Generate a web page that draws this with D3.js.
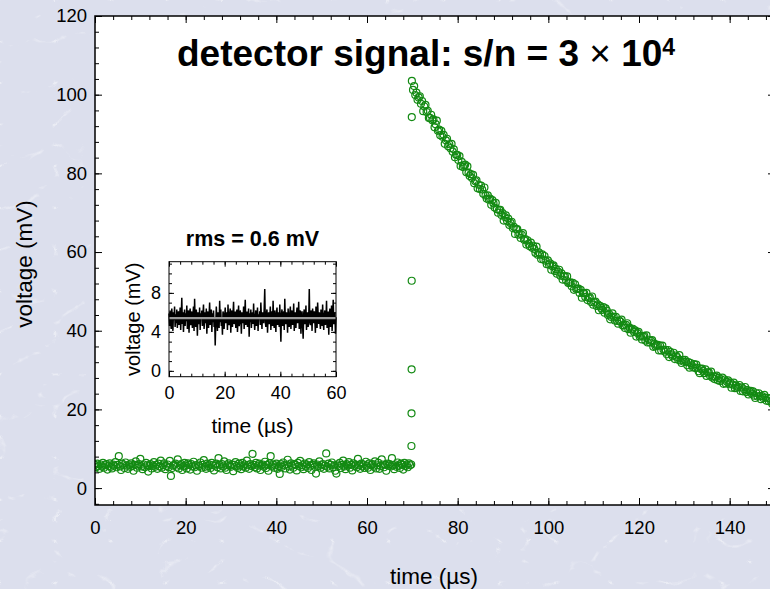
<!DOCTYPE html>
<html>
<head>
<meta charset="utf-8">
<script src="https://cdn.jsdelivr.net/npm/d3@7"></script>
<style>
  html, body { margin: 0; padding: 0; background: #dde0ee; }
  svg { display: block; }
  text { font-family: "Liberation Sans", Arial, sans-serif; fill: #000; }
</style>
</head>
<body>
<svg id="chart" width="770" height="589"></svg>
<script>
// MARK: Data.

// Baseline before the pulse: one sample every 0.25 µs from t = 0.
const baseStart = 0
const baseStep  = 0.25
const baseVolts = [
  5.9, 5.3, 6.2, 5.6, 4.9, 6.0, 5.5, 6.4, 5.2, 5.8, 6.1, 4.7, 5.6, 6.3, 5.4, 5.0, 6.0, 5.7, 6.6, 5.3,
  5.9, 8.1, 5.5, 4.6, 6.2, 5.8, 5.1, 6.5, 5.7, 4.9, 6.0, 5.4, 6.3, 5.6, 4.4, 5.9, 6.8, 5.2, 5.7, 6.1,
  7.4, 5.5, 4.8, 6.0, 5.3, 6.4, 5.8, 4.2, 5.6, 6.1, 5.0, 5.7, 6.6, 5.4, 5.9, 4.9, 6.2, 5.5, 7.0, 5.2,
  5.8, 6.3, 4.8, 5.6, 6.0, 5.3, 6.9, 3.1, 5.1, 5.7, 5.9, 6.2, 5.4, 7.3, 5.0, 5.8, 6.1, 4.6, 5.5, 6.4,
  5.7, 5.0, 6.3, 5.9, 4.7, 6.1, 5.5, 6.7, 5.3, 5.8, 4.4, 6.0, 5.6, 6.5, 5.2, 5.9, 7.1, 5.4, 4.9, 6.2,
  5.6, 6.0, 5.1, 6.4, 5.8, 4.5, 5.7, 6.2, 5.3, 7.6, 5.9, 5.0, 6.1, 5.5, 6.8, 5.2, 4.6, 5.8, 6.3, 5.7,
  5.4, 6.0, 4.3, 5.9, 6.6, 5.6, 5.1, 6.2, 5.7, 4.8, 6.4, 5.5, 6.0, 5.2, 7.0, 5.8, 4.9, 6.1, 5.6, 8.7,
  5.9, 5.3, 6.4, 5.0, 5.7, 6.2, 4.6, 5.8, 6.0, 5.4, 6.7, 5.1, 5.9, 4.4, 6.3, 8.1, 5.5, 6.0, 5.2, 5.8,
  6.2, 4.9, 5.6, 3.6, 6.1, 5.4, 6.5, 5.8, 5.0, 6.0, 7.2, 5.5, 4.7, 6.3, 5.7, 5.2, 6.1, 5.9, 4.5, 6.4,
  5.6, 6.9, 5.3, 5.8, 4.8, 6.2, 5.5, 6.0, 5.1, 6.6, 5.7, 4.6, 5.9, 6.3, 5.4, 3.7, 6.0, 5.6, 6.8, 5.2,
  5.8, 6.1, 4.9, 5.7, 8.8, 5.4, 6.2, 5.0, 5.9, 6.5, 5.3, 5.8, 4.4, 3.7, 6.0, 5.6, 6.4, 5.1, 5.9, 7.0,
  5.5, 4.8, 6.1, 5.7, 6.6, 5.2, 5.9, 4.5, 6.3, 5.6, 6.0, 5.3, 7.4, 5.8, 4.9, 6.2, 5.5, 6.0, 5.1, 6.7,
  5.7, 5.2, 6.3, 4.6, 5.9, 6.1, 5.4, 6.8, 5.0, 5.8, 6.4, 4.9, 5.6, 7.3, 6.0, 5.3, 5.9, 4.4, 6.2, 5.7,
  6.1, 5.5, 7.6, 5.8, 4.8, 6.0, 5.4, 6.5, 5.7, 5.1, 6.2, 5.9, 4.7, 6.4, 5.6, 6.0, 5.3, 6.3, 5.8, 6.0,
]

// The few samples caught on the rising edge.
const riseTimes = [69.80, 69.82, 69.84, 69.86, 69.88]
const riseVolts = [10.7, 19.0, 30.2, 52.7, 94.3]

// Decay after the pulse: one sample every 0.25 µs from t = 69.9.
const decayStart = 69.9
const decayStep  = 0.25
const decayVolts = [
  103.5, 101.2, 102.2, 99.9, 100.5, 98.7, 99.3, 99.6, 97.7, 98.4, 95.8, 97.0, 97.4, 95.6, 95.9, 94.1,
  94.1, 94.9, 93.5, 93.7, 91.7, 92.5, 93.4, 90.8, 91.1, 89.7, 90.8, 89.3, 89.8, 87.5, 88.4, 88.8,
  86.9, 87.4, 86.4, 87.5, 85.5, 86.1, 84.1, 84.7, 84.7, 83.4, 84.4, 81.9, 82.9, 81.6, 82.0, 82.2,
  80.3, 81.8, 80.1, 79.3, 79.8, 78.8, 79.6, 77.5, 78.0, 78.2, 76.2, 77.1, 76.0, 76.9, 75.9, 74.8,
  76.4, 74.4, 73.6, 74.4, 73.3, 73.6, 72.0, 73.2, 72.4, 71.3, 72.5, 70.9, 70.0, 70.7, 70.7, 69.4,
  69.9, 68.0, 68.9, 69.3, 67.9, 68.5, 66.9, 67.4, 67.7, 66.1, 66.4, 64.6, 65.8, 65.8, 64.4, 64.7,
  63.6, 64.4, 64.8, 63.1, 63.3, 61.9, 63.0, 62.1, 61.5, 62.4, 61.1, 61.6, 60.8, 59.8, 61.4, 59.3,
  59.9, 59.4, 58.2, 59.4, 58.1, 59.0, 57.8, 56.9, 57.9, 56.8, 57.1, 55.5, 56.4, 56.6, 55.2, 55.7,
  54.5, 55.0, 55.5, 54.0, 54.6, 53.0, 53.8, 53.9, 52.8, 53.8, 52.1, 52.2, 52.3, 51.3, 52.2, 50.4,
  51.8, 50.6, 50.7, 50.7, 49.6, 50.4, 48.4, 49.6, 49.5, 48.6, 49.6, 47.8, 48.3, 48.5, 47.3, 48.7,
  46.6, 47.2, 47.4, 46.3, 46.7, 45.2, 46.3, 45.8, 45.3, 46.0, 44.6, 45.7, 45.1, 44.0, 44.3, 42.9,
  43.5, 44.4, 43.6, 42.6, 43.5, 42.5, 41.8, 42.6, 42.3, 42.8, 41.3, 41.4, 40.7, 41.5, 41.9, 40.4,
  40.8, 39.5, 40.3, 40.5, 39.7, 40.1, 38.5, 39.4, 39.7, 38.5, 38.7, 37.8, 38.5, 38.7, 37.5, 38.8,
  37.0, 37.7, 37.0, 37.4, 37.6, 35.9, 36.7, 36.0, 36.2, 36.4, 35.0, 36.2, 35.0, 36.2, 35.2, 34.7,
  35.1, 34.0, 35.1, 33.3, 34.6, 34.0, 33.5, 34.4, 32.8, 33.7, 33.3, 32.6, 33.8, 32.4, 31.8, 32.6,
  32.1, 32.6, 32.1, 31.2, 32.0, 30.6, 31.8, 31.2, 30.7, 31.5, 30.5, 31.4, 30.6, 29.7, 29.2, 30.3,
  30.4, 29.8, 29.2, 30.2, 28.5, 29.4, 29.4, 28.6, 29.6, 28.1, 28.4, 27.7, 28.3, 28.6, 27.4, 28.0,
  27.2, 27.6, 28.1, 26.5, 27.6, 26.6, 27.0, 27.4, 26.4, 26.8, 25.5, 26.3, 26.8, 25.4, 26.1, 25.5,
  25.7, 26.2, 24.7, 25.6, 24.6, 25.1, 25.7, 24.4, 24.9, 23.8, 24.5, 24.7, 24.0, 24.6, 23.5, 22.9,
  24.1, 23.3, 24.1, 23.4, 22.6, 23.4, 22.9, 23.7, 23.0, 22.2, 22.9, 22.1, 22.8, 22.0, 21.4, 22.3,
  22.1,
]

// Inset trace: the baseline at finer resolution, one sample every 0.2 µs.
const insetStart = 0
const insetStep  = 0.2
const insetVolts = [
  5.9, 4.6, 6.2, 5.0, 4.3, 6.4, 5.5, 4.1, 6.0, 5.2, 6.6, 4.5, 5.8, 4.9, 6.3, 4.4, 5.6, 6.1, 4.7, 5.3,
  6.5, 4.2, 5.7, 7.5, 4.8, 6.0, 4.0, 5.4, 6.3, 4.6, 5.9, 5.1, 6.7, 4.3, 5.5, 6.2, 3.9, 5.8, 6.4, 4.7,
  5.2, 6.1, 4.4, 5.7, 6.6, 4.1, 7.4, 5.0, 4.5, 6.3, 5.6, 3.6, 6.0, 5.3, 4.8, 6.5, 4.2, 5.9, 5.4, 6.2,
  4.6, 5.8, 6.8, 4.3, 5.1, 6.0, 4.9, 6.4, 3.8, 5.6, 6.1, 4.4, 5.7, 7.0, 4.7, 5.3, 6.3, 4.0, 5.9, 5.0,
  6.2, 4.5, 5.5, 2.6, 4.8, 6.6, 5.2, 4.1, 6.0, 5.7, 4.4, 7.2, 5.0, 6.3, 4.6, 5.4, 3.7, 6.1, 5.8, 4.3,
  5.6, 6.5, 4.9, 5.3, 6.0, 4.2, 6.8, 5.1, 4.7, 5.9, 6.4, 3.9, 5.5, 6.2, 4.5, 5.8, 7.1, 4.8, 5.2, 6.1,
  4.4, 5.7, 6.3, 4.0, 5.4, 6.7, 4.6, 5.0, 6.2, 5.5, 3.8, 6.0, 5.3, 4.9, 6.6, 4.3, 5.8, 7.3, 4.7, 5.6,
  6.1, 4.5, 5.2, 6.4, 3.5, 5.9, 5.0, 6.3, 4.4, 5.7, 6.0, 4.8, 6.9, 5.1, 4.2, 5.6, 6.2, 4.6, 5.4, 6.5,
  4.1, 5.8, 5.3, 6.1, 4.7, 7.0, 5.5, 4.3, 6.0, 5.2, 4.9, 6.4, 8.4, 5.0, 4.5, 5.9, 6.3, 3.9, 5.6, 6.0,
  4.8, 5.4, 6.6, 4.2, 5.7, 6.1, 4.6, 7.2, 5.1, 4.4, 6.2, 5.5, 4.0, 5.9, 6.5, 4.7, 5.3, 6.0, 4.5, 6.8,
  5.0, 3.0, 5.8, 6.3, 4.6, 5.4, 6.1, 4.2, 7.4, 5.2, 4.8, 6.0, 5.6, 3.9, 6.4, 5.1, 4.5, 5.9, 6.6, 4.3,
  5.7, 6.2, 4.7, 5.3, 6.9, 4.1, 5.5, 6.0, 4.4, 5.8, 6.5, 4.9, 5.2, 7.1, 4.3, 5.6, 6.2, 3.8, 5.4, 6.1,
  4.6, 3.3, 5.9, 6.3, 4.8, 5.1, 6.7, 4.2, 5.6, 6.0, 4.5, 5.3, 8.4, 5.0, 4.7, 6.2, 5.8, 4.1, 6.4, 5.5,
  4.9, 6.1, 5.2, 3.9, 6.6, 5.4, 4.4, 7.0, 5.7, 4.8, 6.0, 5.1, 4.3, 6.3, 5.5, 4.6, 6.8, 5.0, 4.2, 5.8,
  6.2, 4.7, 5.3, 7.2, 4.4, 5.9, 6.1, 3.7, 5.6, 6.4, 4.5, 5.0, 6.7, 4.1, 5.7, 7.3, 4.8, 5.4, 6.0, 3.8,
  5.5,
]

const xMajorTicks      = [0, 20, 40, 60, 80, 100, 120, 140]
const yMajorTicks      = [0, 20, 40, 60, 80, 100, 120]
const insetXMajorTicks = [0, 20, 40, 60]
const insetYMajorTicks = [0, 4, 8]

const titleHead    = 'detector signal: s/n = 3 '
const titleTimes   = '\u00d7'
const titleTail    = ' 10'
const titleExp     = '4'
const insetTitle   = 'rms = 0.6 mV'
const xLabel       = 'time (\u00b5s)'
const yLabel       = 'voltage (mV)'

// MARK: Layout.

const W = 770
const H = 589
const GREEN = '#138a13'

const svg = d3.select('#chart')

const x = d3.scaleLinear().domain([0, 150]).range([95, 775])
const y = d3.scaleLinear().domain([-4.3, 120]).range([505, 16])

const ix = d3.scaleLinear().domain([0, 60]).range([169, 336])
const iy = d3.scaleLinear().domain([-0.6, 11.2]).range([376.7, 261.7])

// Build the samples as [t, v] pairs.
const baseline = baseVolts.map((v, i) => [baseStart + i * baseStep, v])
const rise     = riseVolts.map((v, i) => [riseTimes[i], v])
const decay    = decayVolts.map((v, i) => [decayStart + i * decayStep, v])
const points   = baseline.concat(rise, decay)
const trace    = insetVolts.map((v, i) => [insetStart + i * insetStep, v])

// MARK: Background with a faint marble look.

const defs = svg.append('defs')
const marble = defs.append('filter')
  .attr('id', 'marble').attr('x', 0).attr('y', 0).attr('width', '100%').attr('height', '100%')
marble.append('feTurbulence')
  .attr('type', 'turbulence')
  .attr('baseFrequency', '0.018 0.024')
  .attr('numOctaves', 3)
  .attr('seed', 11)
marble.append('feColorMatrix')
  .attr('type', 'matrix')
  .attr('values', '0 0 0 0 1  0 0 0 0 1  0 0 0 0 1  -9 0 0 0 0.9')

defs.append('clipPath').attr('id', 'plotClip')
  .append('rect')
  .attr('x', x(0)).attr('y', y(120))
  .attr('width', x(150) - x(0)).attr('height', y(-4.3) - y(120))

svg.append('rect')
  .attr('width', W).attr('height', H)
  .attr('fill', '#dcdfed')
svg.append('rect')
  .attr('width', W).attr('height', H)
  .attr('fill', '#fff')
  .attr('opacity', 0.45)
  .attr('filter', 'url(#marble)')

// MARK: Main plot.

svg.append('rect')
  .attr('x', x(0)).attr('y', y(120))
  .attr('width', x(150) - x(0)).attr('height', y(-4.3) - y(120))
  .attr('fill', '#fff')

svg.append('g')
  .attr('clip-path', 'url(#plotClip)')
  .selectAll('circle')
  .data(points).enter()
  .append('circle')
  .attr('cx', (d) => x(d[0]))
  .attr('cy', (d) => y(d[1]))
  .attr('r', 3.5)
  .attr('fill', 'none')
  .attr('stroke', GREEN)
  .attr('stroke-width', 1.2)

// Ticks on all four sides, pointing inward.
function ticks(g, axis, values, len, labels, padding, fontSize) {
  g.call(axis.tickValues(values)
    .tickSizeInner(-len).tickSizeOuter(0)
    .tickPadding(padding)
    .tickFormat(labels ? d3.format('d') : () => ''))
  g.select('.domain').remove()
  g.selectAll('.tick line').attr('stroke', '#000').attr('stroke-width', 1)
  g.selectAll('.tick text')
    .attr('fill', '#000')
    .style('font-family', '"Liberation Sans", Arial, sans-serif')
    .style('font-size', fontSize + 'px')
}

function frameAxes(sx, sy, xMajor, xMinor, yMajor, yMinor, lens, fonts) {
  const [x0, x1] = sx.range()
  const [y0, y1] = sy.range()
  const sides = [
    [() => d3.axisBottom(sx), `translate(0,${y0})`, xMajor, xMinor, true, fonts.xPad],
    [() => d3.axisTop(sx)   , `translate(0,${y1})`, xMajor, xMinor, false, 0],
    [() => d3.axisLeft(sy)  , `translate(${x0},0)`, yMajor, yMinor, true, fonts.yPad],
    [() => d3.axisRight(sy) , `translate(${x1},0)`, yMajor, yMinor, false, 0],
  ]
  for (const [make, tr, major, minor, labels, pad] of sides) {
    const g = svg.append('g').attr('transform', tr)
    ticks(g.append('g'), make(), minor, lens.minor, false, 0, fonts.size)
    ticks(g.append('g'), make(), major, lens.major, labels, pad, fonts.size)
  }
  svg.append('rect')
    .attr('x', x0).attr('y', y1)
    .attr('width', x1 - x0).attr('height', y0 - y1)
    .attr('fill', 'none')
    .attr('stroke', '#000')
    .attr('stroke-width', fonts.frame)
}

frameAxes(x, y,
  xMajorTicks, d3.range(0, 151, 4),
  yMajorTicks, d3.range(-4, 121, 4),
  { major: 7, minor: 4 },
  { size: 18.5, xPad: 16, yPad: 8, frame: 1.5 })

// MARK: Inset with the baseline noise.

const insetMean = d3.mean(trace, (d) => d[1])

svg.append('rect')
  .attr('x', ix(0)).attr('y', iy(11.2))
  .attr('width', ix(60) - ix(0)).attr('height', iy(-0.6) - iy(11.2))
  .attr('fill', '#fff')

svg.append('path')
  .datum(trace)
  .attr('d', d3.line().x((d) => ix(d[0])).y((d) => iy(d[1])))
  .attr('fill', 'none')
  .attr('stroke', '#000')
  .attr('stroke-width', 1.5)

svg.append('line')
  .attr('x1', ix(0)).attr('x2', ix(60))
  .attr('y1', iy(insetMean)).attr('y2', iy(insetMean))
  .attr('stroke', '#9a9a9a')
  .attr('stroke-width', 2.2)

frameAxes(ix, iy,
  insetXMajorTicks, d3.range(0, 61, 4),
  insetYMajorTicks, d3.range(0, 12, 1),
  { major: 5, minor: 3 },
  { size: 18, xPad: 10, yPad: 8, frame: 1 })

svg.append('text')
  .attr('x', (ix(0) + ix(60)) / 2).attr('y', 246)
  .attr('text-anchor', 'middle')
  .style('font-size', '21.5px').style('font-weight', 'bold')
  .text(insetTitle)

svg.append('text')
  .attr('x', (ix(0) + ix(60)) / 2).attr('y', 433)
  .attr('text-anchor', 'middle')
  .style('font-size', '21px')
  .text(xLabel)

svg.append('text')
  .attr('transform', `translate(140,${(iy(11.2) + iy(-0.6)) / 2}) rotate(-90)`)
  .attr('text-anchor', 'middle')
  .style('font-size', '20px')
  .text(yLabel)

// MARK: Title and axis labels.

const title = svg.append('text')
  .attr('x', 177).attr('y', 66)
  .style('font-size', '37px').style('font-weight', 'bold')
title.append('tspan').text(titleHead)
title.append('tspan').style('font-weight', 'normal').text(titleTimes)
title.append('tspan').text(titleTail)
title.append('tspan')
  .attr('dy', -11)
  .style('font-size', '23px')
  .text(titleExp)

svg.append('text')
  .attr('x', 434).attr('y', 584)
  .attr('text-anchor', 'middle')
  .style('font-size', '22.5px')
  .text(xLabel)

svg.append('text')
  .attr('transform', `translate(32,${264}) rotate(-90)`)
  .attr('text-anchor', 'middle')
  .style('font-size', '22.5px')
  .text(yLabel)
</script>
</body>
</html>
